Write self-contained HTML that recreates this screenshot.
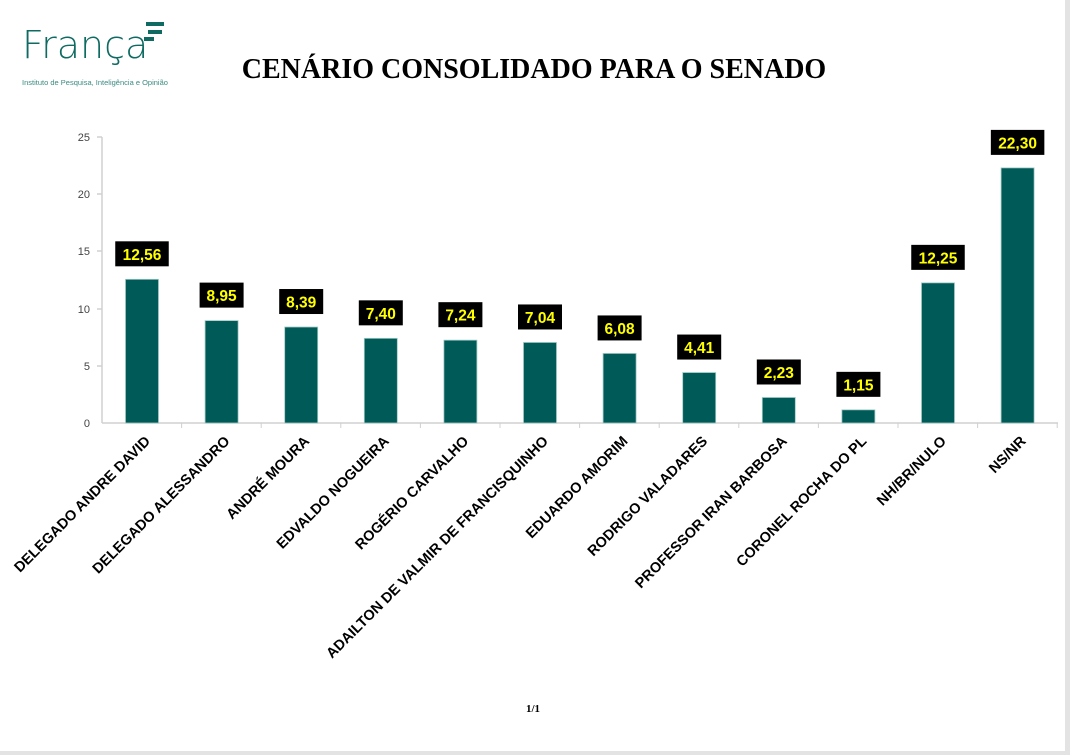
<!DOCTYPE html>
<html><head><meta charset="utf-8"><style>
html,body{margin:0;padding:0;background:#fff;}
body{width:1070px;height:755px;overflow:hidden;position:relative;font-family:"Liberation Sans",sans-serif;}
</style></head><body>
<div style="position:absolute;right:0;top:0;width:5px;height:755px;background:#e3e3e3"></div>
<div style="position:absolute;left:0;bottom:0;width:1070px;height:4px;background:#e3e3e3"></div>
<svg width="1070" height="755" style="position:absolute;left:0;top:0" font-family="Liberation Sans, sans-serif">
<text x="22" y="58" font-size="38" fill="#0f6b62" font-family="DejaVu Sans, sans-serif" font-weight="300">França</text>
<rect x="146" y="22" width="18" height="4" fill="#0f6b62"/><rect x="148" y="30" width="14" height="4" fill="#0f6b62"/><rect x="144" y="37" width="10" height="4" fill="#0f6b62"/>
<text x="22" y="85" font-size="7.5" fill="#3a8a80">Instituto de Pesquisa, Inteligência e Opinião</text>
<text x="534" y="78" font-size="28" font-weight="bold" text-anchor="middle" font-family="Liberation Serif, serif">CENÁRIO CONSOLIDADO PARA O SENADO</text>
<g stroke="#d0d0d0" stroke-width="1.5" fill="none">
<line x1="102" y1="137" x2="102" y2="423"/><line x1="102" y1="423" x2="1058" y2="423"/>
<line x1="97" y1="137" x2="102" y2="137"/><line x1="97" y1="194" x2="102" y2="194"/><line x1="97" y1="251" x2="102" y2="251"/><line x1="97" y1="309" x2="102" y2="309"/><line x1="97" y1="366" x2="102" y2="366"/>
</g>
<g font-size="11" fill="#444" text-anchor="end">
<text x="90" y="141">25</text><text x="90" y="198">20</text><text x="90" y="255">15</text><text x="90" y="313">10</text><text x="90" y="370">5</text><text x="90" y="427">0</text>
</g>
<g id="bars"></g>
</svg>
<script>
var d=[["DELEGADO ANDRE DAVID",12.56],["DELEGADO ALESSANDRO",8.95],["ANDRÉ MOURA",8.39],["EDVALDO NOGUEIRA",7.40],["ROGÉRIO CARVALHO",7.24],["ADAILTON DE VALMIR DE FRANCISQUINHO",7.04],["EDUARDO AMORIM",6.08],["RODRIGO VALADARES",4.41],["PROFESSOR IRAN BARBOSA",2.23],["CORONEL ROCHA DO PL",1.15],["NH/BR/NULO",12.25],["NS/NR",22.30]];
var s="";
d.forEach(function(e,i){
var cx=142+i*79.6,h=e[1]*11.44,top=423-h;
s+='<rect x="'+(cx-16.5)+'" y="'+top+'" width="33" height="'+h+'" fill="#005a57" stroke="#9fc9c4" stroke-width="0.8"/>';
s+='<line x1="'+(102+(i+1)*79.6)+'" y1="423" x2="'+(102+(i+1)*79.6)+'" y2="428" stroke="#d0d0d0"/>';
var t=e[1].toFixed(2).replace(".",","),w=t.length*9.5+6;
s+='<rect x="'+(cx-w/2)+'" y="'+(top-38)+'" width="'+w+'" height="25" fill="#000"/>';
s+='<text x="'+cx+'" y="'+(top-19.5)+'" font-size="15.5" font-weight="bold" fill="#ffff00" text-anchor="middle">'+t+'</text>';
s+='<text transform="translate('+(cx+9)+',442) rotate(-45)" font-size="14.5" font-weight="bold" fill="#000" text-anchor="end">'+e[0]+'</text>';
});
document.getElementById("bars").innerHTML=s;
</script>
<div style="position:absolute;left:0;width:1066px;top:703px;text-align:center;font-family:'Liberation Serif',serif;font-weight:bold;font-size:11px">1/1</div>
</body></html>
